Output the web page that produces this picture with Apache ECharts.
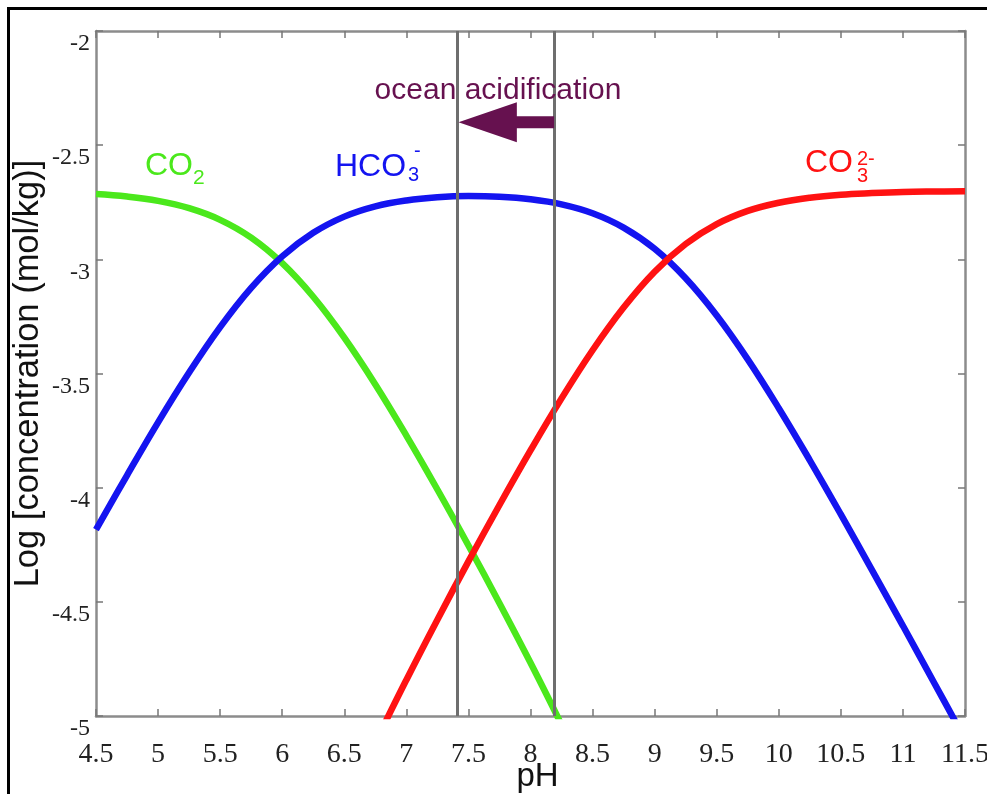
<!DOCTYPE html>
<html>
<head>
<meta charset="utf-8">
<script src="https://cdn.jsdelivr.net/npm/echarts@6/dist/echarts.min.js"></script>
<style>html,body{margin:0;padding:0;background:#fff}#c{width:987px;height:794px}</style>
</head>
<body>
<div id="c"></div>
<script>
// ---- data ----
const pH = [4.5,4.75,5,5.25,5.5,5.75,6,6.25,6.5,6.75,7,7.25,7.5,7.75,8,8.25,8.5,8.75,9,9.25,9.5,9.75,10,10.25,10.5,10.75,11,11.25,11.5];
const co2 = [-2.714,-2.725,-2.744,-2.776,-2.827,-2.905,-3.017,-3.164,-3.343,-3.548,-3.772,-4.008,-4.253,-4.506,-4.767,-5.039,-5.328,null,null,null,null,null,null,null,null,null,null,null,null];
const hco3 = [-4.184,-3.946,-3.714,-3.496,-3.297,-3.125,-2.987,-2.884,-2.813,-2.768,-2.742,-2.728,-2.723,-2.726,-2.737,-2.759,-2.798,-2.861,-2.954,-3.083,-3.246,-3.438,-3.652,-3.880,-4.117,-4.360,-4.605,-4.853,-5.102];
const co3 = [null,null,null,null,null,null,null,null,-5.413,-5.118,-4.842,-4.578,-4.323,-4.076,-3.837,-3.609,-3.398,-3.211,-3.054,-2.933,-2.846,-2.788,-2.752,-2.730,-2.717,-2.710,-2.705,-2.703,-2.702];
const markerPH = [7.41, 8.19];
const arrowPH = [8.19, 7.89, 7.42];   // tail, head base, tip
const arrowLevel = -2.40;
const xTicks = {min: 4.5, max: 11.5, step: 0.5};
const yTicks = {min: -5, max: -2, step: 0.5};

const pairs = vals => pH.map((x, i) => [x, vals[i]]).filter(p => p[1] !== null);

const GREEN = '#4be81c', BLUE = '#1414f0', RED = '#ff1212', PURPLE = '#66114f';
const SANS = "'Liberation Sans', Arial, sans-serif";
const SERIF = "'Liberation Serif', 'Times New Roman', serif";
const AXC = '#8c8c8c';

const chart = echarts.init(document.getElementById('c'), null, {renderer: 'canvas'});

const frameAxis = {
  axisLine: {show: true, lineStyle: {color: AXC, width: 2.5}},
  axisTick: {show: true, inside: true, length: 7, lineStyle: {color: '#777', width: 1.5}},
  splitLine: {show: false}
};

const option = {
  animation: false,
  backgroundColor: '#fff',
  textStyle: {fontFamily: SERIF},
  grid: {left: 96, right: 22, top: 31, bottom: 78, containLabel: false, outerBoundsMode: 'none'},
  xAxis: [
    Object.assign({
      type: 'value', min: xTicks.min, max: xTicks.max, interval: xTicks.step, position: 'bottom',
      name: 'pH', nameLocation: 'middle', nameGap: 44, nameMoveOverlap: false,
      nameTextStyle: {fontFamily: SANS, fontSize: 33, color: '#111', padding: [0, 0, 0, 14]},
      axisLabel: {fontFamily: SERIF, fontSize: 28, color: '#222', margin: 25, showMinLabel: true, showMaxLabel: true}
    }, frameAxis),
    Object.assign({
      type: 'value', min: xTicks.min, max: xTicks.max, interval: xTicks.step, position: 'top',
      axisLabel: {show: false}
    }, frameAxis)
  ],
  yAxis: [
    Object.assign({
      type: 'value', min: yTicks.min, max: yTicks.max, interval: yTicks.step, position: 'left',
      name: 'Log [concentration (mol/kg)]', nameLocation: 'middle', nameGap: 50, nameMoveOverlap: false,
      nameTextStyle: {fontFamily: SANS, fontSize: 34.5, color: '#111'},
      axisLabel: {
        margin: 6, verticalAlign: 'top', padding: [1, 0, 0, 0],
        formatter: v => '{s|' + v + '}',
        rich: {s: {fontFamily: SERIF, fontSize: 24, color: '#222'}}
      }
    }, frameAxis),
    Object.assign({
      type: 'value', min: yTicks.min, max: yTicks.max, interval: yTicks.step, position: 'right',
      axisLabel: {show: false}
    }, frameAxis)
  ],
  series: [
    {
      name: 'CO2', type: 'line', data: pairs(co2), showSymbol: false, smooth: 0.4,
      lineStyle: {color: GREEN, width: 6.5}, z: 3,
      markLine: {
        silent: true, symbol: ['none', 'none'], label: {show: false},
        lineStyle: {color: '#6e6e6e', width: 3, type: 'solid'},
        data: markerPH.map(v => ({xAxis: v}))
      }
    },
    {
      name: 'HCO3', type: 'line', data: pairs(hco3), showSymbol: false, smooth: 0.4,
      lineStyle: {color: BLUE, width: 6.5}, z: 3
    },
    {
      name: 'CO3', type: 'line', data: pairs(co3), showSymbol: false, smooth: 0.4,
      lineStyle: {color: RED, width: 6.5}, z: 4
    }
  ]
};
chart.setOption(option);

// ---- annotations ----
const P = (x, y) => chart.convertToPixel({xAxisIndex: 0, yAxisIndex: 0}, [x, y]);
const tail = P(arrowPH[0], arrowLevel), base = P(arrowPH[1], arrowLevel), tip = P(arrowPH[2], arrowLevel);
const sh = 6, hh = 20;
const txt = (x, y, text, size, color, align) => ({
  type: 'text', x: x, y: y, z: 10,
  style: {text: text, fontFamily: SANS, fontSize: size, fill: color, align: align || 'left', verticalAlign: 'middle'}
});

chart.setOption({
  graphic: [
    {type: 'rect', shape: {x: 8.5, y: 8.5, width: 1000, height: 800}, style: {fill: 'none', stroke: '#000', lineWidth: 3}, z: 20},
    {type: 'polygon', z: 10, shape: {points: [
      [tail[0], tail[1] - sh], [base[0], base[1] - sh], [base[0], base[1] - hh], tip,
      [base[0], base[1] + hh], [base[0], base[1] + sh], [tail[0], tail[1] + sh]
    ]}, style: {fill: PURPLE}},
    txt(498, 91, 'ocean acidification', 30, PURPLE, 'center'),
    txt(145, 166, 'CO', 32, GREEN),
    txt(193, 178, '2', 21, GREEN),
    txt(335, 167, 'HCO', 32, BLUE),
    txt(408, 175, '3', 20, BLUE),
    txt(414, 151, '-', 20, BLUE),
    txt(805, 163, 'CO', 32, RED),
    txt(857, 159, '2-', 20, RED),
    txt(857, 176, '3', 20, RED)
  ]
});
</script>
</body>
</html>
